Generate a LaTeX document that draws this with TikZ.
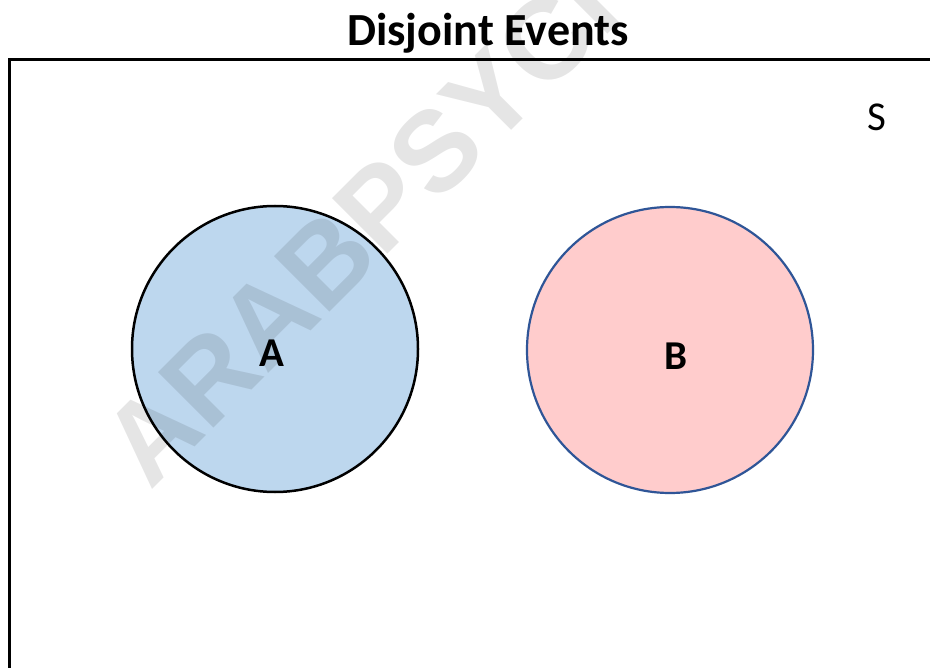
\documentclass[tikz,border=0pt]{standalone}
\usepackage{fontspec}
\setmainfont{Carlito}
\newfontfamily\markfont{Liberation Sans}
\definecolor{setA}{HTML}{BDD7EE}
\definecolor{setB}{HTML}{FFCCCC}
\definecolor{edgeB}{HTML}{2F5597}
\tikzset{
  eventset/.style={circle, minimum size=286pt, inner sep=0pt},
  setlabel/.style={font=\fontsize{41}{41}\selectfont\bfseries, inner sep=0pt},
}
\begin{document}
\begin{tikzpicture}[x=1pt, y=-1pt]
  \useasboundingbox (0,0) rectangle (930,668);
  \fill[white] (0,0) rectangle (930,668);
  \begin{scope}
    \clip (0,0) rectangle (930,668);
    % title
    \node[font=\fontsize{46}{46}\selectfont\bfseries, anchor=base, inner sep=0pt]
      (title) at (488,46) {Disjoint Events};
    % sample space
    \draw[line width=3pt] (9,700) -- (9,59.5) -- (960,59.5);
    \node[font=\fontsize{41}{41}\selectfont, inner sep=0pt] (space) at (877,117) {S};
    % events
    \node[eventset, fill=setA, draw=black, line width=2.5pt] (evA) at (275,349) {};
    \node[eventset, fill=setB, draw=edgeB, line width=2.2pt] (evB) at (670,350) {};
    \node[setlabel] (labA) at (272,353) {A};
    \node[setlabel] (labB) at (676,356) {B};
    % watermark
    \node[font=\markfont\fontsize{114}{114}\selectfont\bfseries, text=black, text opacity=0.1,
          rotate=45, anchor=base west, inner sep=0pt] (mark) at (150,492) {ARABPSYCHOLOGY};
  \end{scope}
\end{tikzpicture}
\end{document}
